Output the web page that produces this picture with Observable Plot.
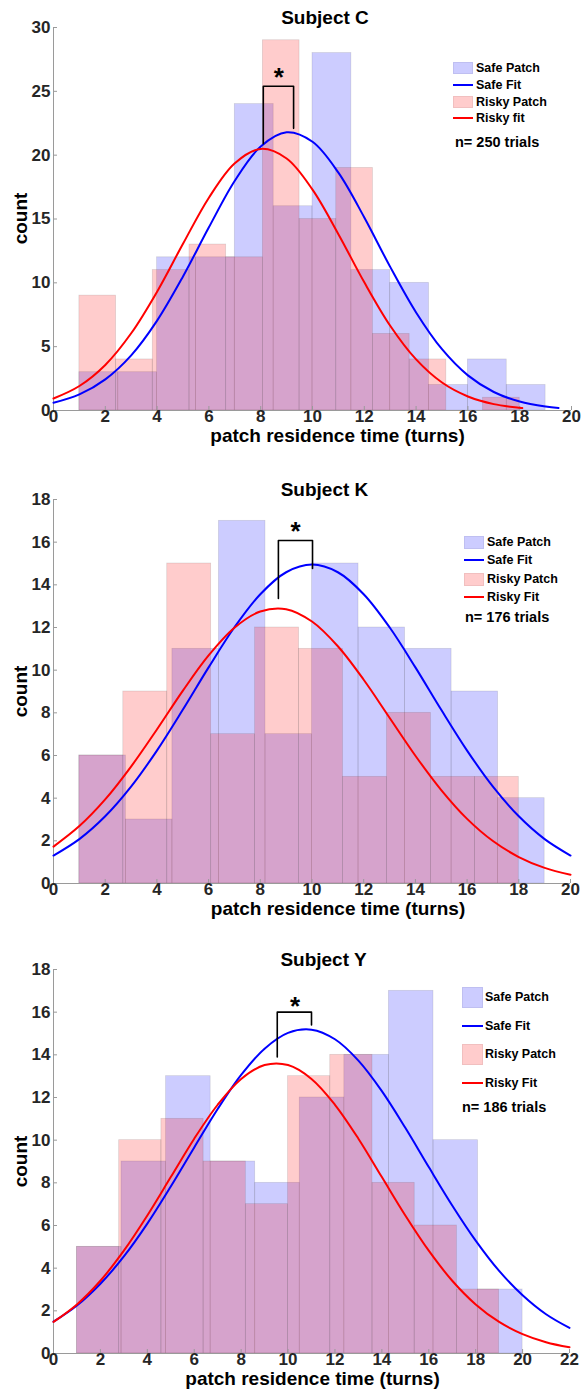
<!DOCTYPE html>
<html><head><meta charset="utf-8">
<script src="https://cdn.jsdelivr.net/npm/d3@7"></script>
<script src="https://cdn.jsdelivr.net/npm/@observablehq/plot@0.6"></script>
<style>
body{margin:0;background:#fff;font-family:"Liberation Sans",Arial,Helvetica,sans-serif;}
#root{position:relative;width:584px;height:1389px;overflow:hidden;background:#fff}
.abs{position:absolute;white-space:nowrap;font-weight:bold;color:#000;line-height:1}
</style></head><body><div id="root"></div>
<script>
// ---------- Subject C ----------
const safeEdgesC = [1,2.5,4,5.5,7,8.5,10,11.5,13,14.5,16,17.5,19];
const safeCountsC = [3,3,12,12,24,16,28,11,10,2,4,2];
const riskyEdgesC = [1,2.417,3.833,5.25,6.667,8.083,9.5,10.917,12.333,13.75,15.167,16.583,18];
const riskyCountsC = [9,4,11,13,12,29,15,19,6,4,0,1];
const safeFitXC = [0,1,2,3,4,5,6,7,8,9,10,11,12,13,14,15,16,17,18,19,19.5];
const safeFitC = [0.60,1.26,2.44,4.32,7.04,10.50,14.35,18.00,20.68,21.79,21.05,18.63,15.12,11.25,7.68,4.80,2.75,1.45,0.70,0.31,0.20];
const riskyFitXC = [0,1,2,3,4,5,6,7,8,9,10,11,12,13,14,15,16,17,18,18.1];
const riskyFitC = [0.94,1.92,3.57,6.05,9.31,13.06,16.67,19.37,20.49,19.74,17.30,13.81,10.04,6.64,4.00,2.19,1.10,0.50,0.21,0.19];
const bracketC = [8.1, 9.27, 25.4, 20.9, 22.1];   // left x, right x, top, left bottom, right bottom
const starC = [8.7, 26.6];
const xTicksC = [0,2,4,6,8,10,12,14,16,18,20];
const yTicksC = [0,5,10,15,20,25,30];

// ---------- Subject K ----------
const safeEdgesK = [1,2.8,4.6,6.4,8.2,10,11.8,13.6,15.4,17.2,19];
const safeCountsK = [6,3,11,17,7,15,12,11,9,4];
const riskyEdgesK = [1,2.7,4.4,6.1,7.8,9.5,11.2,12.9,14.6,16.3,18];
const riskyCountsK = [6,9,15,7,12,11,5,8,5,5];
const fitXK = [0,1,2,3,4,5,6,7,8,9,10,11,12,13,14,15,16,17,18,19,20];
const safeFitK = [1.31,2.08,3.15,4.54,6.23,8.14,10.13,12.01,13.56,14.59,14.95,14.59,13.56,12.01,10.13,8.14,6.23,4.54,3.15,2.08,1.31];
const riskyFitK = [1.73,2.69,3.94,5.48,7.22,9.03,10.69,11.99,12.75,12.86,12.28,11.12,9.55,7.77,5.99,4.38,3.03,1.99,1.24,0.73,0.41];
const bracketK = [8.7, 10.02, 16.08, 13.36, 14.77];
const starK = [9.36, 16.8];
const xTicksK = [0,2,4,6,8,10,12,14,16,18,20];
const yTicksK = [0,2,4,6,8,10,12,14,16,18];

// ---------- Subject Y ----------
const safeEdgesY = [1,2.9,4.8,6.7,8.6,10.5,12.4,14.3,16.2,18.1,20];
const safeCountsY = [5,9,13,9,8,12,14,17,10,3];
const riskyEdgesY = [1,2.8,4.6,6.4,8.2,10,11.8,13.6,15.4,17.2,19];
const riskyCountsY = [5,10,11,9,7,13,14,8,6,3];
const fitXY = [0,1,2,3,4,5,6,7,8,9,10,11,12,13,14,15,16,17,18,19,20,21,22];
const safeFitY = [1.49,2.25,3.27,4.55,6.09,7.83,9.66,11.46,13.06,14.29,15.03,15.18,14.73,13.73,12.30,10.58,8.74,6.94,5.29,3.87,2.73,1.84,1.20];
const riskyFitY = [1.48,2.30,3.41,4.82,6.47,8.27,10.07,11.66,12.87,13.52,13.52,12.87,11.66,10.07,8.27,6.47,4.82,3.41,2.30,1.48,0.91,0.53,0.29];
const bracketY = [9.54, 11.0, 16.0, 13.9, 15.4];
const starY = [10.3, 16.6];
const xTicksY = [0,2,4,6,8,10,12,14,16,18,20,22];
const yTicksY = [0,2,4,6,8,10,12,14,16,18];

const titles = ["Subject C","Subject K","Subject Y"];
const legendLabels = [
  ["Safe Patch","Safe Fit","Risky Patch","Risky fit"],
  ["Safe Patch","Safe Fit","Risky Patch","Risky Fit"],
  ["Safe Patch","Safe Fit","Risky Patch","Risky Fit"]
];
const trialCounts = [250,176,186];
const xLabel = "patch residence time (turns)";
const yLabel = "count";

const FONT = "Liberation Sans, Arial, Helvetica, sans-serif";
const AXIS = "#9a9a9a";
const TICKTXT = "#262626";
const root = document.getElementById("root");

function bins(edges, counts){ return counts.map((c,i)=>({x1:edges[i], x2:edges[i+1], y:c})); }
function pts(xs, ys){ return xs.map((x,i)=>({x, y:ys[i]})); }

function addText(txt, o){
  const d = document.createElement("div");
  d.className = "abs";
  d.textContent = txt;
  d.style.fontSize = o.fs + "px";
  d.style.top = (o.cy - 0.49*o.fs) + "px";
  if (o.cx !== undefined){ d.style.left = o.cx + "px"; d.style.transform = "translateX(-50%)"; }
  else d.style.left = o.left + "px";
  root.appendChild(d);
  return d;
}
function addBox(l,t,w,h,bg,border){
  const d = document.createElement("div");
  d.style.position="absolute"; d.style.left=l+"px"; d.style.top=t+"px";
  d.style.width=w+"px"; d.style.height=h+"px"; d.style.background=bg;
  if(border){ d.style.boxSizing="border-box"; d.style.border=border; }
  root.appendChild(d);
}

function panel(c){
  const plotH = c.height - c.mt - c.mb;
  const plotW = 584 - 53 - c.mr;
  const b = c.bracket;
  const bracketPts = [{x:b[0],y:b[3]},{x:b[0],y:b[2]},{x:b[1],y:b[2]},{x:b[1],y:b[4]}];
  const svg = Plot.plot({
    width: 584, height: c.height,
    marginTop: c.mt, marginBottom: c.mb, marginLeft: 53, marginRight: c.mr,
    x: {domain:[0, c.xmax], axis: null},
    y: {domain:[0, c.ymax], axis: null},
    style: {fontFamily: FONT, background: "transparent", overflow: "visible"},
    marks: [
      Plot.rectY(c.safe, {x1:"x1", x2:"x2", y:"y", fill:"blue", fillOpacity:0.2, stroke:"#444", strokeOpacity:0.18, strokeWidth:0.7}),
      Plot.rectY(c.risky, {x1:"x1", x2:"x2", y:"y", fill:"red", fillOpacity:0.2, stroke:"#444", strokeOpacity:0.18, strokeWidth:0.7}),
      Plot.ruleX([0], {stroke: AXIS, strokeWidth: 1}),
      Plot.ruleY([0], {stroke: AXIS, strokeWidth: 1}),
      Plot.ruleX(c.xTicks, {x: d=>d, insetTop: plotH - 4, stroke: AXIS}),
      Plot.ruleY(c.yTicks, {y: d=>d, insetRight: plotW - 4, stroke: AXIS}),
      Plot.line(c.safeFit, {x:"x", y:"y", stroke:"blue", strokeWidth:2, curve:"catmull-rom"}),
      Plot.line(c.riskyFit, {x:"x", y:"y", stroke:"red", strokeWidth:2, curve:"catmull-rom"}),
      Plot.line(bracketPts, {x:"x", y:"y", stroke:"black", strokeWidth:1.6}),
      Plot.text([{x:c.star[0], y:c.star[1]}], {x:"x", y:"y", text: ()=>"*", fontSize: 26, fontWeight:"bold", fill:"black", dy: 7}),
      Plot.text(c.xTicks, {x: d=>d, text: d=>String(d), frameAnchor:"bottom", dy: 11.5, fontSize: 17, fontWeight:"bold", fill: TICKTXT}),
      Plot.text(c.yTicks, {y: d=>d, text: d=>String(d), frameAnchor:"left", dx: -3, textAnchor:"end", fontSize: 17, fontWeight:"bold", fill: TICKTXT})
    ]
  });
  svg.style.position = "absolute";
  svg.style.left = "0px";
  svg.style.top = c.top + "px";
  root.appendChild(svg);

  addText(c.title, {cx: c.titleX, cy: c.titleY, fs: 19});
  addText(xLabel, {cx: c.xlabX, cy: c.xlabY, fs: 19});
  const yl = addText(yLabel, {cx: 19.6, cy: c.top + c.mt + plotH/2 + 0.49*19 - 9.5, fs: 19});
  yl.style.transform = "translate(-50%,0) rotate(-90deg)";
  yl.style.transformOrigin = "50% 50%";

  const L = c.leg;
  addBox(L.px, L.rows[0]-L.ph/2, L.pw, L.ph, "rgba(0,0,255,0.2)", "1px solid rgba(120,120,160,0.15)");
  addBox(L.px, L.rows[1]-1, L.pw, 2, "blue");
  addBox(L.px, L.rows[2]-L.ph/2, L.pw, L.ph, "rgba(255,0,0,0.2)", "1px solid rgba(160,120,120,0.15)");
  addBox(L.px, L.rows[3]-1, L.pw, 2, "red");
  c.legendLabels.forEach((t,i)=> addText(t, {left: L.tx, cy: L.rows[i], fs: 12.5}));
  addText("n= " + c.n + " trials", {left: L.nx, cy: L.ny, fs: 14.5});
}

panel({
  top:0, height:460, mt:27, mb:50, mr:13, xmax:20, ymax:30,
  safe: bins(safeEdgesC, safeCountsC), risky: bins(riskyEdgesC, riskyCountsC),
  safeFit: pts(safeFitXC, safeFitC), riskyFit: pts(riskyFitXC, riskyFitC),
  bracket: bracketC, star: starC, xTicks: xTicksC, yTicks: yTicksC,
  title: titles[0], titleX: 325, titleY: 17, xlabX: 337.5, xlabY: 435,
  legendLabels: legendLabels[0], n: trialCounts[0],
  leg: {px:453, pw:20, ph:12, rows:[68,85,102,118], tx:476, nx:455, ny:142.5}
});
panel({
  top:460, height:460, mt:39, mb:37, mr:14, xmax:20, ymax:18,
  safe: bins(safeEdgesK, safeCountsK), risky: bins(riskyEdgesK, riskyCountsK),
  safeFit: pts(fitXK, safeFitK), riskyFit: pts(fitXK, riskyFitK),
  bracket: bracketK, star: starK, xTicks: xTicksK, yTicks: yTicksK,
  title: titles[1], titleX: 324.5, titleY: 489.5, xlabX: 338, xlabY: 908,
  legendLabels: legendLabels[1], n: trialCounts[1],
  leg: {px:464, pw:20, ph:13, rows:[542,560,579,597], tx:487, nx:465, ny:617}
});
panel({
  top:920, height:469, mt:49, mb:36, mr:15, xmax:22, ymax:18,
  safe: bins(safeEdgesY, safeCountsY), risky: bins(riskyEdgesY, riskyCountsY),
  safeFit: pts(fitXY, safeFitY), riskyFit: pts(fitXY, riskyFitY),
  bracket: bracketY, star: starY, xTicks: xTicksY, yTicks: yTicksY,
  title: titles[2], titleX: 323.5, titleY: 959.5, xlabX: 312.5, xlabY: 1378,
  legendLabels: legendLabels[2], n: trialCounts[2],
  leg: {px:462, pw:21, ph:21, rows:[997,1026,1054,1083], tx:485, nx:462, ny:1107}
});
</script></body></html>
